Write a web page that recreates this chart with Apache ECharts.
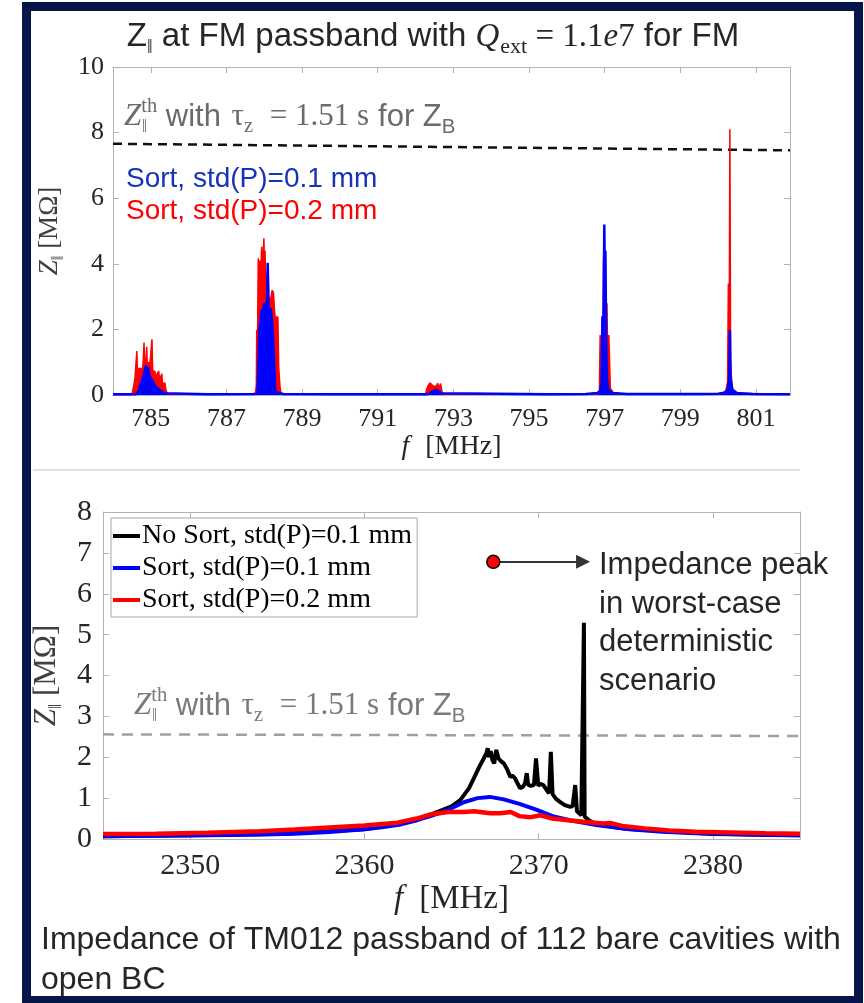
<!DOCTYPE html>
<html><head><meta charset="utf-8">
<script src="https://cdn.jsdelivr.net/npm/echarts@6/dist/echarts.min.js"></script>
<style>html,body{margin:0;padding:0;background:#fff;}#c{width:864px;height:1003px;}</style>
</head><body><div id="c"></div>
<script>
// ---------------- DATA ----------------
// Top chart: FM passband (f in MHz, Z in MOhm)
const fmXTicks = [785, 787, 789, 791, 793, 795, 797, 799, 801];
const fmSort01 = [[784.0,0.02],[784.6,0.02],[784.65,0.03],[784.68,0.12],[784.72,0.3],[784.76,0.42],[784.8,0.55],[784.84,0.75],[784.87,0.9],[784.9,0.65],[784.93,0.85],[784.96,0.6],[785.0,0.58],[785.03,0.45],[785.07,0.38],[785.12,0.25],[785.18,0.22],[785.24,0.15],[785.3,0.12],[785.36,0.05],[785.4,0.02],[786.5,0.02],[787.7,0.03],[787.82,0.04],[787.85,1.2],[787.87,2.0],[787.9,2.3],[787.93,2.6],[787.96,2.4],[787.99,2.8],[788.02,2.5],[788.05,2.85],[788.07,2.6],[788.09,4.03],[788.11,2.7],[788.14,2.5],[788.17,2.65],[788.2,2.3],[788.23,1.8],[788.26,1.0],[788.29,0.1],[788.32,0.04],[788.5,0.03],[790.0,0.02],[792.3,0.02],[792.38,0.05],[792.44,0.1],[792.5,0.13],[792.56,0.15],[792.62,0.12],[792.68,0.05],[792.72,0.02],[795.5,0.02],[796.5,0.03],[796.8,0.06],[796.88,0.12],[796.92,0.4],[796.94,2.4],[796.96,1.0],[796.99,5.2],[797.01,3.2],[797.02,4.4],[797.04,1.6],[797.06,0.5],[797.1,0.15],[797.2,0.06],[797.6,0.03],[799.5,0.03],[800.0,0.04],[800.15,0.07],[800.25,0.15],[800.29,0.5],[800.31,1.98],[800.33,0.5],[800.38,0.15],[800.5,0.06],[800.9,0.03],[801.9,0.02]];
const fmSort02 = [[784.0,0.01],[784.5,0.01],[784.52,0.02],[784.55,0.3],[784.58,0.5],[784.61,0.45],[784.63,1.34],[784.65,0.6],[784.68,0.8],[784.71,0.75],[784.74,0.82],[784.77,0.6],[784.8,1.05],[784.82,1.6],[784.84,0.9],[784.87,1.0],[784.89,1.47],[784.91,0.8],[784.94,1.0],[784.97,0.85],[785.0,0.9],[785.03,1.7],[785.05,0.75],[785.08,0.8],[785.11,0.71],[785.14,0.5],[785.17,0.65],[785.21,0.73],[785.23,0.45],[785.26,0.4],[785.29,0.65],[785.31,0.35],[785.34,0.3],[785.37,0.37],[785.4,0.15],[785.44,0.02],[787.76,0.02],[787.79,0.3],[787.8,1.98],[787.82,1.5],[787.84,4.17],[787.86,3.0],[787.88,4.1],[787.9,3.3],[787.93,4.52],[787.95,3.5],[787.97,4.3],[787.99,4.78],[788.01,3.6],[788.02,4.4],[788.04,3.2],[788.07,3.6],[788.1,3.9],[788.12,3.0],[788.15,2.8],[788.18,3.0],[788.21,3.2],[788.23,2.6],[788.24,3.16],[788.27,2.6],[788.3,2.2],[788.32,2.4],[788.34,1.5],[788.36,2.39],[788.38,0.9],[788.4,0.5],[788.42,0.2],[788.45,0.02],[792.26,0.02],[792.3,0.2],[792.34,0.3],[792.38,0.37],[792.42,0.32],[792.46,0.28],[792.5,0.3],[792.54,0.25],[792.58,0.36],[792.62,0.2],[792.66,0.35],[792.7,0.1],[792.73,0.02],[796.8,0.03],[796.86,0.1],[796.88,1.83],[796.9,1.83],[796.92,0.5],[796.95,1.2],[796.97,4.16],[796.99,2.0],[797.02,1.5],[797.06,2.8],[797.08,1.0],[797.11,1.83],[797.13,1.83],[797.15,0.2],[797.25,0.04],[800.1,0.04],[800.2,0.1],[800.25,0.4],[800.27,3.4],[800.29,1.0],[800.31,8.1],[800.33,1.0],[800.37,0.2],[800.5,0.05],[801.9,0.02]];
const fmThreshold = [[784.0,7.66],[801.9,7.46]];

// Bottom chart: TM012 passband
const tmXTicks = [2350, 2360, 2370, 2380];
const tmNoSort01 = [[2345,0.07],[2350,0.09],[2355,0.12],[2360,0.24],[2363,0.46],[2365,0.8],[2365.5,0.95],[2366,1.24],[2366.3,1.5],[2366.6,1.77],[2366.85,1.97],[2367.0,2.1],[2367.08,2.22],[2367.15,2.0],[2367.25,2.15],[2367.35,1.93],[2367.45,1.85],[2367.57,2.18],[2367.7,1.97],[2367.85,1.9],[2368.0,1.85],[2368.2,1.7],[2368.37,1.52],[2368.5,1.55],[2368.65,1.48],[2368.8,1.35],[2368.94,1.24],[2369.1,1.28],[2369.22,1.36],[2369.32,1.61],[2369.4,1.33],[2369.55,1.3],[2369.73,1.32],[2369.85,1.97],[2369.98,1.3],[2370.1,1.35],[2370.27,1.32],[2370.46,1.2],[2370.6,1.12],[2370.7,2.13],[2370.8,1.1],[2371.0,0.98],[2371.22,0.91],[2371.5,0.83],[2371.78,0.79],[2371.95,0.8],[2372.1,1.32],[2372.2,0.68],[2372.45,0.58],[2372.56,0.57],[2372.6,5.29],[2372.64,0.55],[2372.9,0.45],[2373.3,0.36],[2375,0.25],[2380,0.12],[2385,0.09]];
const tmSort01 = [[2345,0.07],[2348,0.08],[2351,0.09],[2354,0.11],[2356,0.13],[2358,0.17],[2360,0.24],[2361,0.29],[2362,0.35],[2363,0.46],[2363.8,0.56],[2364.8,0.71],[2365.7,0.9],[2366.5,1.0],[2367.2,1.03],[2368,0.97],[2368.9,0.86],[2369.9,0.71],[2370.8,0.56],[2371.8,0.46],[2373.3,0.34],[2375.2,0.24],[2377.1,0.18],[2379,0.14],[2381,0.12],[2383,0.1],[2385,0.09]];
const tmSort02 = [[2345,0.12],[2348,0.13],[2351,0.15],[2354,0.19],[2356,0.23],[2358,0.28],[2360,0.33],[2361.9,0.4],[2363,0.5],[2363.8,0.6],[2364.8,0.66],[2365.7,0.66],[2366.3,0.68],[2367.2,0.63],[2367.8,0.63],[2368.4,0.66],[2368.9,0.56],[2369.5,0.53],[2370.1,0.58],[2370.8,0.5],[2371.8,0.45],[2372.9,0.41],[2373.7,0.38],[2374.1,0.39],[2374.8,0.32],[2376.1,0.26],[2377.5,0.21],[2379,0.18],[2381,0.16],[2383,0.14],[2385,0.13]];
const tmThreshold = [[2345,2.56],[2385,2.52]];
const worstCasePeak = [[2367.4, 6.78]];
const arrowStart = [2367.78, 6.78];
const arrowEnd = [2372.55, 6.78];

const legendNames = ['No Sort, std(P)=0.1 mm', 'Sort, std(P)=0.1 mm', 'Sort, std(P)=0.2 mm'];

// ---------------- STYLE ----------------
const SERIF = "'Liberation Serif','Times New Roman','DejaVu Serif',serif";
const SANS = "'Liberation Sans',Arial,'DejaVu Sans',sans-serif";
const AX = '#b3b3b3';
const TXT = '#262626';

function xAxes(grid, min, max, ticks, fs, margin, nameGap, nameFs) {
  return [{
    gridIndex: grid, type: 'value', min: min, max: max, position: 'bottom',
    axisLine: {show: true, onZero: false, lineStyle: {color: AX, width: 1}},
    axisTick: {show: true, inside: true, length: 6, customValues: ticks, lineStyle: {color: AX}},
    axisLabel: {customValues: ticks, fontFamily: SERIF, fontSize: fs, color: TXT, margin: margin,
      formatter: function (v) { return String(v); }},
    splitLine: {show: false},
    name: '{fi|f}{n|[MHz]}', nameLocation: 'middle', nameGap: nameGap,
    nameTextStyle: {fontFamily: SERIF, fontSize: nameFs, color: TXT, rich: {
      fi: {fontFamily: SERIF, fontStyle: 'italic', fontSize: nameFs, color: TXT, padding: [0, 16, 0, 0]},
      n: {fontFamily: SERIF, fontSize: nameFs, color: TXT}}}
  }, {
    gridIndex: grid, type: 'value', min: min, max: max, position: 'top',
    axisLine: {show: true, onZero: false, lineStyle: {color: AX, width: 1}},
    axisTick: {show: true, inside: true, length: 6, customValues: ticks, lineStyle: {color: AX}},
    axisLabel: {show: false}, splitLine: {show: false}
  }];
}
function yAxes(grid, max, interval, fs, margin, nameGap, nameFs) {
  return [{
    gridIndex: grid, type: 'value', min: 0, max: max, interval: interval, position: 'left',
    axisLine: {show: true, onZero: false, lineStyle: {color: AX, width: 1}},
    axisTick: {show: true, inside: true, length: 6, lineStyle: {color: AX}},
    axisLabel: {fontFamily: SERIF, fontSize: fs, color: TXT, margin: margin},
    splitLine: {show: false},
    name: '{zi|Z}{sb|‖}{n| [MΩ]}', nameLocation: 'middle', nameGap: nameGap, nameRotate: 90,
    nameTextStyle: {fontFamily: SERIF, fontSize: nameFs, color: '#404040', rich: {
      zi: {fontFamily: SERIF, fontStyle: 'italic', fontSize: nameFs, color: '#404040', lineHeight: nameFs + 8},
      sb: {fontFamily: SERIF, fontSize: nameFs * 0.6, color: '#404040', verticalAlign: 'bottom', lineHeight: nameFs * 0.6},
      n: {fontFamily: SERIF, fontSize: nameFs, color: '#404040', lineHeight: nameFs + 8}}}
  }, {
    gridIndex: grid, type: 'value', min: 0, max: max, interval: interval, position: 'right',
    axisLine: {show: true, onZero: false, lineStyle: {color: AX, width: 1}},
    axisTick: {show: true, inside: true, length: 6, lineStyle: {color: AX}},
    axisLabel: {show: false}, splitLine: {show: false}
  }];
}

function thrRich(col, fs) {
  const s = fs * 0.66;
  return {
    zi: {fontFamily: SERIF, fontStyle: 'italic', fontSize: fs, lineHeight: 40, fill: col, color: col},
    sup: {fontFamily: SERIF, fontSize: s, lineHeight: 22, verticalAlign: 'top', fill: col, color: col},
    s: {fontFamily: SANS, fontSize: fs, lineHeight: 40, fill: col, color: col},
    t: {fontFamily: SERIF, fontSize: fs, lineHeight: 40, fill: col, color: col, padding: [0, 0, 0, 2]},
    m: {fontFamily: SERIF, fontSize: fs, lineHeight: 40, fill: col, color: col, padding: [0, 9, 0, 9]},
    sub: {fontFamily: SERIF, fontSize: s, lineHeight: 24, verticalAlign: 'bottom', fill: col, color: col},
    subs: {fontFamily: SANS, fontSize: s, lineHeight: 24, verticalAlign: 'bottom', fill: col, color: col}
  };
}
const thrText = '{zi|Z}{sup|th}{s| with }{t|τ}{sub|z}{m| = 1.51 s}{s|for Z}{subs|B}';

function lineSeries(name, xi, yi, data, color, width, extra) {
  return Object.assign({
    type: 'line', name: name, xAxisIndex: xi, yAxisIndex: yi, data: data,
    symbol: 'none', showSymbol: false, silent: true, animation: false, clip: true,
    lineStyle: {color: color, width: width}, itemStyle: {color: color}
  }, extra || {});
}

const option = {
  animation: false,
  backgroundColor: '#ffffff',
  grid: [
    {left: 113, top: 67, width: 677, height: 328},
    {left: 103, top: 512, width: 697, height: 327}
  ],
  xAxis: [].concat(
    xAxes(0, 784, 801.9, fmXTicks, 26, 11, 36, 28),
    xAxes(1, 2345, 2385, tmXTicks, 30, 12, 44, 33)
  ),
  yAxis: [].concat(
    yAxes(0, 10, 2, 26, 9, 38, 27),
    yAxes(1, 8, 1, 30, 11, 36, 31)
  ),
  legend: {
    data: legendNames, orient: 'vertical', left: 111, top: 518,
    icon: 'rect', itemWidth: 27, itemHeight: 4, itemGap: 4,
    padding: [4, 5, 3, 2], borderColor: '#a8a8a8', borderWidth: 1, borderRadius: 0,
    backgroundColor: '#ffffff', selectedMode: false,
    textStyle: {fontFamily: SERIF, fontSize: 28, color: '#000', padding: [0, 0, 0, -3]}
  },
  series: [
    lineSeries('FM threshold', 0, 0, fmThreshold, '#111', 2.5, {lineStyle: {color: '#111', width: 2.5, type: [9, 6]}}),
    lineSeries('FM Sort 0.2', 0, 0, fmSort02, '#ff0000', 1.5, {areaStyle: {color: '#ff0000', opacity: 1}}),
    lineSeries('FM Sort 0.1', 0, 0, fmSort01, '#0000ff', 2.5, {areaStyle: {color: '#0000ff', opacity: 1}}),
    lineSeries('TM threshold', 2, 2, tmThreshold, '#a0a0a0', 2.5, {lineStyle: {color: '#a0a0a0', width: 2.5, type: [11, 8]}}),
    lineSeries(legendNames[0], 2, 2, tmNoSort01, '#000000', 4),
    lineSeries(legendNames[1], 2, 2, tmSort01, '#0000ff', 4),
    lineSeries(legendNames[2], 2, 2, tmSort02, '#ff0000', 4.5),
    {
      type: 'scatter', name: 'worst case', xAxisIndex: 2, yAxisIndex: 2, data: worstCasePeak,
      symbolSize: 13, silent: true, animation: false, z: 6,
      itemStyle: {color: '#ff0000', borderColor: '#000', borderWidth: 1.5, opacity: 1},
      markLine: {
        silent: true, animation: false, symbol: ['none', 'triangle'], symbolSize: 14,
        label: {show: false}, lineStyle: {color: '#333', width: 2, type: 'solid'},
        data: [[{coord: arrowStart}, {coord: arrowEnd}]]
      }
    }
  ],
  graphic: [
    {type: 'rect', silent: true, z: 100, shape: {x: 26.5, y: 6.5, width: 832, height: 994},
      style: {fill: 'none', stroke: '#06154a', lineWidth: 9}},
    {type: 'line', silent: true, z: 1, shape: {x1: 33, y1: 470, x2: 800, y2: 470},
      style: {stroke: '#d6d6d6', lineWidth: 1.5}},
    {type: 'text', silent: true, z: 50, x: 433, y: 37, style: {
      text: '{z|Z}{sb|‖}{s| at FM passband with }{qi|Q}{sr|ext}{m| = 1.1}{ei|e}{m|7}{s| for FM}',
      align: 'center', verticalAlign: 'middle', fill: TXT,
      rich: {
        z: {fontFamily: SANS, fontSize: 33, lineHeight: 42, fill: TXT},
        sb: {fontFamily: SERIF, fontSize: 20, lineHeight: 26, verticalAlign: 'bottom', fill: TXT},
        s: {fontFamily: SANS, fontSize: 33, lineHeight: 42, fill: TXT},
        qi: {fontFamily: SERIF, fontStyle: 'italic', fontSize: 33, lineHeight: 42, fill: TXT, padding: [0, 1, 0, 0]},
        sr: {fontFamily: SERIF, fontSize: 22, lineHeight: 26, verticalAlign: 'bottom', fill: TXT},
        m: {fontFamily: SERIF, fontSize: 33, lineHeight: 42, fill: TXT},
        ei: {fontFamily: SERIF, fontStyle: 'italic', fontSize: 33, lineHeight: 42, fill: TXT}
      }}},
    {type: 'text', silent: true, z: 50, x: 124, y: 117, style: {
      text: thrText, align: 'left', verticalAlign: 'middle', rich: thrRich('#6b6b6b', 31)}},
    {type: 'text', silent: true, z: 50, x: 142, y: 127, style: {
      text: '‖', fontFamily: SERIF, fontSize: 18, fill: '#6b6b6b', align: 'left', verticalAlign: 'middle'}},
    {type: 'text', silent: true, z: 50, x: 126, y: 179, style: {
      text: 'Sort, std(P)=0.1 mm', fontFamily: SANS, fontSize: 28, fill: '#1634b8', align: 'left', verticalAlign: 'middle'}},
    {type: 'text', silent: true, z: 50, x: 126, y: 211, style: {
      text: 'Sort, std(P)=0.2 mm', fontFamily: SANS, fontSize: 28, fill: '#ff0000', align: 'left', verticalAlign: 'middle'}},
    {type: 'text', silent: true, z: 50, x: 134, y: 706, style: {
      text: thrText, align: 'left', verticalAlign: 'middle', rich: thrRich('#7a7a7a', 31)}},
    {type: 'text', silent: true, z: 50, x: 152, y: 716, style: {
      text: '‖', fontFamily: SERIF, fontSize: 18, fill: '#7a7a7a', align: 'left', verticalAlign: 'middle'}},
    {type: 'text', silent: true, z: 50, x: 599, y: 546, style: {
      text: 'Impedance peak\nin worst-case\ndeterministic\nscenario',
      fontFamily: SANS, fontSize: 31, lineHeight: 38.7, fill: TXT, align: 'left', verticalAlign: 'top'}},
    {type: 'text', silent: true, z: 50, x: 41, y: 920, style: {
      text: 'Impedance of TM012 passband of 112 bare cavities with\nopen BC',
      fontFamily: SANS, fontSize: 32, lineHeight: 40, fill: TXT, align: 'left', verticalAlign: 'top'}}
  ]
};

const chart = echarts.init(document.getElementById('c'), null, {renderer: 'canvas', width: 864, height: 1003});
chart.setOption(option);
</script>
</body></html>
